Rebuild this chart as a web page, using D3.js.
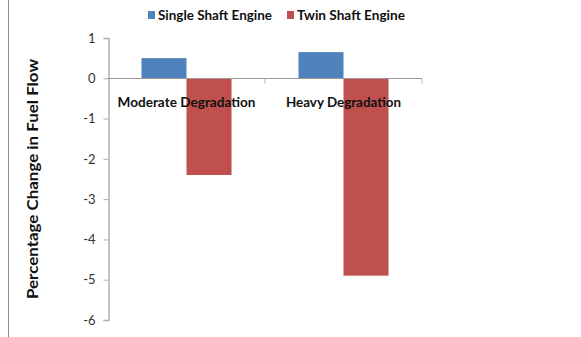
<!DOCTYPE html>
<html>
<head>
<meta charset="utf-8">
<script src="https://cdn.jsdelivr.net/npm/d3@7"></script>
<style>
  body { margin: 0; background: #fff; }
  svg { display: block; }
  text { font-family: Lato, "Open Sans", sans-serif; }
</style>
</head>
<body>
<svg id="chart" width="581" height="337"></svg>
<script>
// Fuel flow change per degradation level, in percent
const categories = ["Moderate Degradation", "Heavy Degradation"];
const seriesNames = ["Single Shaft Engine", "Twin Shaft Engine"];
const singleShaft = [0.5, 0.65];
const twinShaft = [-2.4, -4.9];
const yTicks = [1, 0, -1, -2, -3, -4, -5, -6];
const colors = ["#4F81BD", "#C0504D"];

const svg = d3.select("#chart");
const margin = { left: 108, right: 159, top: 38, bottom: 17 };
const W = 581, H = 337;

const x = d3.scaleBand().domain(categories)
  .range([margin.left, W - margin.right]).paddingInner(0).paddingOuter(0);
const xs = d3.scaleBand().domain(seriesNames)
  .range([0, x.bandwidth()]).paddingInner(0).paddingOuter(0.744);
const y = d3.scaleLinear().domain([-6, 1]).range([H - margin.bottom, margin.top]);

// outer frame edge on the left
svg.append("line").attr("x1", 8.5).attr("x2", 8.5).attr("y1", 0).attr("y2", H)
  .attr("stroke", "#8c8c8c").attr("stroke-width", 1);

// bars
const rows = categories.map((c, i) => ({ c, vals: [singleShaft[i], twinShaft[i]] }));
const g = svg.append("g");
rows.forEach(r => {
  r.vals.forEach((v, j) => {
    g.append("rect")
      .attr("x", x(r.c) + xs(seriesNames[j]))
      .attr("width", xs.bandwidth())
      .attr("y", y(Math.max(0, v)))
      .attr("height", Math.abs(y(v) - y(0)))
      .attr("fill", colors[j]);
  });
});

// y axis
const yAxis = d3.axisLeft(y).tickValues(yTicks).tickSize(5).tickPadding(8)
  .tickFormat(d => String(d));
const ya = svg.append("g").attr("transform", `translate(${margin.left + 0.5},0)`).call(yAxis);
ya.select(".domain").attr("stroke", "#b0b0b0").attr("stroke-width", 1.5);
ya.selectAll(".tick line").attr("stroke", "#b0b0b0");
ya.selectAll(".tick text").attr("fill", "#333").style("font-size", "13px")
  .style("font-family", "Lato, sans-serif");

// x axis along zero
const xa = svg.append("g").attr("transform", `translate(0,${Math.round(y(0)) + 0.5})`);
xa.append("line").attr("x1", margin.left).attr("x2", W - margin.right)
  .attr("stroke", "#9a9a9a").attr("stroke-width", 1);
[margin.left + x.bandwidth(), W - margin.right].forEach(px => {
  xa.append("line").attr("x1", px).attr("x2", px).attr("y1", 0).attr("y2", 5)
    .attr("stroke", "#b0b0b0");
});
const catWidths = [138, 115];
categories.forEach((c, i) => {
  xa.append("text").attr("x", x(c) + x.bandwidth() / 2).attr("y", 28)
    .attr("text-anchor", "middle").attr("font-weight", "bold")
    .attr("textLength", catWidths[i]).attr("lengthAdjust", "spacingAndGlyphs")
    .style("font-size", "13.7px").attr("fill", "#111").text(c);
});

// y axis title
svg.append("text")
  .attr("transform", `translate(38,179) rotate(-90)`)
  .attr("text-anchor", "middle").attr("font-weight", "bold")
  .attr("textLength", 240).attr("lengthAdjust", "spacingAndGlyphs")
  .style("font-size", "15.5px").attr("fill", "#111")
  .text("Percentage Change in Fuel Flow");

// legend
const legendX = [148, 287];
const legendWidths = [114, 108];
seriesNames.forEach((s, j) => {
  const lg = svg.append("g").attr("transform", `translate(${legendX[j]},10)`);
  lg.append("rect").attr("width", 7).attr("height", 8).attr("y", 1).attr("fill", colors[j]);
  lg.append("text").attr("x", 10).attr("y", 10).attr("font-weight", "bold")
    .attr("textLength", legendWidths[j]).attr("lengthAdjust", "spacingAndGlyphs")
    .style("font-size", "13.2px").attr("fill", "#111").text(s);
});
</script>
</body>
</html>
